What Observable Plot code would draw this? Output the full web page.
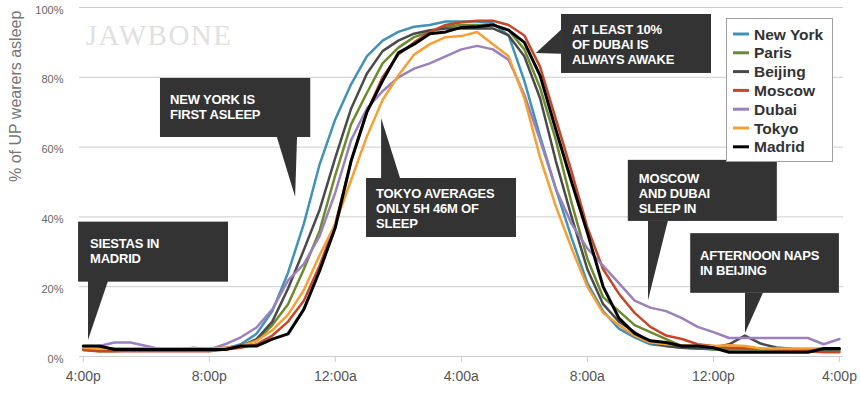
<!DOCTYPE html>
<html>
<head>
<meta charset="utf-8">
<script src="https://cdn.jsdelivr.net/npm/d3@7"></script>
<script src="https://cdn.jsdelivr.net/npm/@observablehq/plot@0.6"></script>
<style>
  html, body { margin: 0; padding: 0; background: #fff; }
  #chart { position: relative; width: 860px; height: 393px; }
  #chart svg { font-family: "Liberation Sans", Arial, sans-serif; }
</style>
</head>
<body>
<div id="chart"></div>
<script>
// ---- DATA ----
const hours = [0,0.5,1,1.5,2,2.5,3,3.5,4,4.5,5,5.5,6,6.5,7,7.5,8,8.5,9,9.5,10,10.5,11,11.5,12,12.5,13,13.5,14,14.5,15,15.5,16,16.5,17,17.5,18,18.5,19,19.5,20,20.5,21,21.5,22,22.5,23,23.5,24];
const cities = ["New York", "Paris", "Beijing", "Moscow", "Dubai", "Tokyo", "Madrid"];
const cityColors = ["#4291b6", "#6d8a2c", "#4a4a4a", "#c4472a", "#9a80bc", "#f6a033", "#000000"];

const newYork = [2,2,2,2,2,2,2,2,2,2.2, 3.5,6.5,13,24,38,55,68,78,86,90.5, 93,94.5,95,96,96,96,95.5,92,79,63, 48,34,21,13,8,5.5,3.5,3,2.5,2.3, 2,2,2,2,2,2,2,2,2];
const paris   = [1.8,1.5,1.5,1.8,1.8,1.8,1.8,1.8,1.8,2, 2.8,4.5,9,15,25,36,52,66.5,75.5,84, 88.5,91.5,93,94.5,95,95,95,93.5,88,77, 62,44,28,17,13,9,7,5,3,2.5, 2,2,2,2,2,1.8,1.5,1.8,1.5];
const beijing = [2.5,2.5,2.2,2.2,2.2,2.2,2.2,2.2,2.2,2.5, 3,5,10,19.5,30.5,42,57,71,81,87.5, 90.5,92.5,93.5,94,94,94,94,92,86,74, 56,40,25,15,10,7,4,3,2.5,2.3, 2.5,3.5,6,3.7,2.6,2.2,2,2,2];
const moscow  = [2,1.5,1.5,1.5,1.5,1.5,1.5,1.5,1.5,2, 2.5,3.5,6,10,16,26,38,56,70,80, 86.5,90,93,95,95.8,96.2,96.2,95,92,83, 68,53,37,25,18,12.5,8.5,6,5,3.5, 3,2.5,2.5,2.2,2,2,1.5,1.2,1.2];
const dubai   = [2.5,3,4,4,3,2,2,2.5,2,3.5, 5.5,8.3,13.5,21.8,26.5,34.5,47,62,71,76, 80,82.5,84,86,88,89,88,85,75,62, 48,38,31,26,21,16,14,13,11,8.5, 7,5.3,5.3,5.3,5.3,5.3,5.3,3.5,5];
const tokyo   = [2.5,2.2,2.2,2.2,2.2,2.2,2.2,2.2,2.2,2.5, 3,4.5,7.5,12,19,29,38,50.5,63,73.5, 80.5,86.5,89.5,91.5,91.8,93,89.5,86,74,57, 43,31,20,12.5,9,6,4,3.5,3.2,3, 3,3.2,3,2.3,2.3,2.3,2.3,2.3,2.3];
const madrid  = [3,3,2,2,2,2,2,2,2,2, 3,3,5,6.5,13.5,24.5,37,56,70,79, 87,89.5,92.5,93,94.3,94.5,95,93.5,90,80.5, 65,50,35.5,20,11,6.6,4.5,4,3,3, 2.5,1.2,1.2,1.2,1.2,1.2,1.2,2.3,2.3];

const yTicks = [0, 20, 40, 60, 80, 100];
const xTicks = [0, 4, 8, 12, 16, 20, 24];
const xTickLabels = ["4:00p", "8:00p", "12:00a", "4:00a", "8:00a", "12:00p", "4:00p"];
const yLabel = "% of UP wearers asleep";
const watermark = "JAWBONE";

// annotations: text lines, box (hours / percent), pointer triangle, text anchor
const noteTexts = [
  ["NEW YORK IS", "FIRST ASLEEP"],
  ["SIESTAS IN", "MADRID"],
  ["TOKYO AVERAGES", "ONLY 5H 46M OF", "SLEEP"],
  ["AT LEAST 10%", "OF DUBAI IS", "ALWAYS AWAKE"],
  ["MOSCOW", "AND DUBAI", "SLEEP IN"],
  ["AFTERNOON NAPS", "IN BEIJING"]
];
const noteBoxes = [
  [2.45, 7.22, 62.75, 79.66],
  [-0.15, 4.61, 21.3, 38.5],
  [8.99, 13.75, 34.1, 51.0],
  [15.18, 19.94, 81.1, 98.0],
  [17.30, 22.03, 38.7, 56.2],
  [19.28, 24.0, 18.1, 35.2]
];
const notePointers = [
  [[6.16, 62.75], [6.80, 62.75], [6.74, 45.6]],
  [[0.165, 21.5], [0.80, 21.5], [0.165, 4.6]],
  [[9.47, 51.0], [10.07, 51.0], [9.47, 68.2]],
  [[15.18, 86.6], [15.18, 93.5], [14.38, 86.8]],
  [[17.94, 38.7], [18.57, 38.7], [17.94, 16.0]],
  [[21.02, 18.1], [21.59, 18.1], [21.02, 6.6]]
];
const noteTextAnchors = [[2.77, 72.2], [0.23, 30.9], [9.31, 45.2], [15.53, 92.3], [17.65, 49.7], [19.59, 27.5]];

// ---- BUILD ----
const seriesValues = [newYork, paris, beijing, moscow, dubai, tokyo, madrid];
const tidy = [];
cities.forEach((c, ci) => hours.forEach((h, i) => tidy.push({city: c, h, v: seriesValues[ci][i]})));
const others = tidy.filter(d => d.city !== "Madrid");
const madridRows = tidy.filter(d => d.city === "Madrid");
const xLabelMap = new Map(xTicks.map((t, i) => [t, xTickLabels[i]]));

const chart = Plot.plot({
  width: 860,
  height: 393,
  marginLeft: 79,
  marginRight: 17,
  marginTop: 7,
  marginBottom: 37,
  x: {domain: [-0.12, 24.13]},
  y: {domain: [0, 100]},
  color: {domain: cities, range: cityColors},
  style: {fontFamily: "Liberation Sans, Arial, sans-serif", background: "#fff"},
  marks: [
    Plot.ruleY(yTicks, {stroke: "#cccccc", strokeWidth: 1}),
    Plot.axisY(yTicks, {tickSize: 0, tickPadding: 16, dy: 2.5, tickFormat: d => d + "%", fontSize: 11, fill: "#666", label: null}),
    Plot.axisX(xTicks, {tickSize: 6, stroke: "#c8ccd2", tickPadding: 9, tickFormat: d => xLabelMap.get(d), fontSize: 14, fill: "#555", label: null}),
    Plot.text([yLabel], {frameAnchor: "left", dx: -64, rotate: -90, fontSize: 16, fill: "#777"}),
    Plot.line(others, {x: "h", y: "v", z: "city", stroke: "city", strokeWidth: 2.5, strokeLinejoin: "round"}),
    Plot.line(madridRows, {x: "h", y: "v", z: "city", stroke: "city", strokeWidth: 3, strokeLinejoin: "round"})
  ]
});
document.getElementById("chart").append(chart);

const sx = chart.scale("x"), sy = chart.scale("y");
const X = v => sx.apply(v), Y = v => sy.apply(v);
const svg = d3.select(chart);

// watermark
svg.append("text")
  .attr("x", X(0) + 3).attr("y", Y(100) + 38)
  .attr("text-anchor", "start")
  .attr("font-family", "Liberation Serif, Times New Roman, serif")
  .attr("font-size", 29).attr("letter-spacing", 1.5)
  .attr("fill", "#e0e0e0").text(watermark);

// annotations
const ann = svg.append("g").attr("text-anchor", "start");
noteTexts.forEach((lines, i) => {
  const [x1, x2, y1, y2] = noteBoxes[i];
  ann.append("rect").attr("x", X(x1)).attr("y", Y(y2))
    .attr("width", X(x2) - X(x1)).attr("height", Y(y1) - Y(y2)).attr("fill", "#333333");
  ann.append("polygon").attr("points", notePointers[i].map(([h, p]) => `${X(h)},${Y(p)}`).join(" "))
    .attr("fill", "#333333");
  const [tx, ty] = noteTextAnchors[i];
  const t = ann.append("text").attr("x", X(tx)).attr("y", Y(ty))
    .attr("text-anchor", "start")
    .attr("fill", "#fff").attr("font-weight", "bold").attr("font-size", 13)
    .attr("letter-spacing", -0.2);
  lines.forEach((l, j) => t.append("tspan").attr("x", X(tx)).attr("dy", j === 0 ? 0 : 15).text(l));
});

// legend
const lg = svg.append("g").attr("text-anchor", "start");
lg.append("rect").attr("x", 726.5).attr("y", 18.5).attr("width", 106).attr("height", 143)
  .attr("fill", "#fff").attr("stroke", "#a0a0a0");
cities.forEach((c, i) => {
  const yy = 34 + i * 18.8;
  lg.append("line").attr("x1", 733).attr("x2", 749).attr("y1", yy).attr("y2", yy)
    .attr("stroke", cityColors[i]).attr("stroke-width", 3);
  lg.append("text").attr("x", 754).attr("y", yy).attr("dy", "0.36em")
    .attr("text-anchor", "start")
    .attr("font-size", 15.5).attr("font-weight", "bold").attr("fill", "#333").text(c);
});
</script>
</body>
</html>
